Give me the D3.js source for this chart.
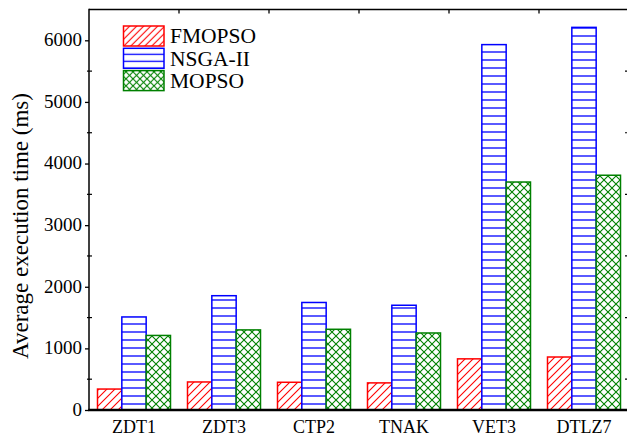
<!DOCTYPE html>
<html>
<head>
<meta charset="utf-8">
<script src="https://cdn.jsdelivr.net/npm/d3@7"></script>
<style>
  html, body { margin: 0; padding: 0; background: #fff; }
  svg { display: block; }
  text { font-family: "Liberation Serif", "Times New Roman", serif; fill: #000; }
</style>
</head>
<body>
<svg id="chart" width="627" height="438"></svg>
<script>
// Benchmark problems on the x axis
const problems = ["ZDT1", "ZDT3", "CTP2", "TNAK", "VET3", "DTLZ7"];
// Algorithms compared
const algorithms = ["FMOPSO", "NSGA-II", "MOPSO"];
// Average execution time (ms) per algorithm, one value per problem
const fmopso = [340, 455, 450, 440, 830, 860];
const nsga2  = [1510, 1855, 1745, 1700, 5930, 6210];
const mopso  = [1210, 1300, 1310, 1250, 3700, 3810];
// Y axis ticks
const yMajorTicks = [0, 1000, 2000, 3000, 4000, 5000, 6000];
const yMinorTicks = [500, 1500, 2500, 3500, 4500, 5500];
const yLabel = "Average execution time (ms)";

const seriesValues = [fmopso, nsga2, mopso];
const colors = ["#ff0000", "#0000ff", "#008000"];
const patternIds = ["hatch-red", "hatch-blue", "hatch-green"];

const svg = d3.select("#chart");
const plotLeft = 89, plotRight = 629, plotTop = 9.5, plotBottom = 410;

const x = d3.scaleBand().domain(problems).range([plotLeft, plotRight]).paddingInner(0).paddingOuter(0);
const xs = d3.scaleBand().domain(algorithms).range([-36.5, 36.5]);
const y = d3.scaleLinear().domain([0, 6500]).range([plotBottom, plotTop]);

// Fill patterns: diagonal, horizontal and cross hatch
const defs = svg.append("defs");
function makePatterns(suffix, size, offY) {
  const red = defs.append("pattern").attr("id", "hatch-red" + suffix)
    .attr("patternUnits", "userSpaceOnUse").attr("width", size).attr("height", size)
    .attr("y", offY);
  red.append("rect").attr("width", size).attr("height", size).attr("fill", "#ffffff");
  red.append("path").attr("d", `M0,${size} L${size},0 M${-size/2},${size/2} L${size/2},${-size/2} M${size/2},${size*1.5} L${size*1.5},${size/2}`)
    .attr("fill", "none").attr("stroke", colors[0]).attr("stroke-width", 1.1);

  const blue = defs.append("pattern").attr("id", "hatch-blue" + suffix)
    .attr("patternUnits", "userSpaceOnUse").attr("width", size).attr("height", size)
    .attr("y", offY);
  blue.append("rect").attr("width", size).attr("height", size).attr("fill", "#ffffff");
  blue.append("line").attr("x1", 0).attr("x2", size).attr("y1", size / 2).attr("y2", size / 2)
    .attr("stroke", colors[1]).attr("stroke-width", 1.3);

  const green = defs.append("pattern").attr("id", "hatch-green" + suffix)
    .attr("patternUnits", "userSpaceOnUse").attr("width", size).attr("height", size)
    .attr("y", offY);
  green.append("rect").attr("width", size).attr("height", size).attr("fill", "#ffffff");
  green.append("path").attr("d", `M0,0 L${size},${size} M0,${size} L${size},0`)
    .attr("fill", "none").attr("stroke", colors[2]).attr("stroke-width", 1.1);
}
makePatterns("", 8, 0);
makePatterns("-legend", 7, 47.3 - 3.5);

// Bars
problems.forEach((p, i) => {
  algorithms.forEach((a, j) => {
    const v = seriesValues[j][i];
    const cx = x(p) + x.bandwidth() / 2;
    svg.append("rect")
      .attr("x", cx + xs(a))
      .attr("y", y(v))
      .attr("width", xs.bandwidth())
      .attr("height", y(0) - y(v))
      .attr("fill", `url(#${patternIds[j]})`)
      .attr("stroke", colors[j])
      .attr("stroke-width", 1.5);
  });
});

// Frame
svg.append("line").attr("x1", plotLeft).attr("x2", plotRight).attr("y1", plotTop).attr("y2", plotTop)
  .attr("stroke", "#000").attr("stroke-width", 1.5);
svg.append("line").attr("x1", plotRight).attr("x2", plotRight).attr("y1", plotTop).attr("y2", plotBottom)
  .attr("stroke", "#000").attr("stroke-width", 1.5);

// Left axis with major labels
const yAxis = d3.axisLeft(y).tickValues(yMajorTicks).tickSize(4).tickPadding(3).tickFormat(d3.format("d"));
const gy = svg.append("g").attr("transform", `translate(${plotLeft},0)`).call(yAxis);
gy.select(".domain").remove();
gy.selectAll(".tick line").attr("stroke-width", 1.3);
gy.selectAll(".tick text").attr("font-size", 19).attr("font-family", "Liberation Serif").attr("dy", "0.28em");
svg.append("line").attr("x1", plotLeft).attr("x2", plotLeft).attr("y1", plotTop - 0.75).attr("y2", plotBottom)
  .attr("stroke", "#000").attr("stroke-width", 1.5);
// Minor ticks on the left
svg.append("g").selectAll("line").data(yMinorTicks).join("line")
  .attr("x1", plotLeft - 2).attr("x2", plotLeft + 3)
  .attr("y1", d => y(d)).attr("y2", d => y(d))
  .attr("stroke", "#000").attr("stroke-width", 1.2);
// Minor ticks on the right side, pointing inward
svg.append("g").selectAll("line").data(yMinorTicks).join("line")
  .attr("x1", plotRight - 4).attr("x2", plotRight)
  .attr("y1", d => y(d)).attr("y2", d => y(d))
  .attr("stroke", "#000").attr("stroke-width", 1.2);
// Top ticks between groups
svg.append("g").selectAll("line").data(problems.slice(1)).join("line")
  .attr("x1", d => x(d)).attr("x2", d => x(d))
  .attr("y1", plotTop).attr("y2", plotTop + 4)
  .attr("stroke", "#000").attr("stroke-width", 1.3);

// Bottom axis with category labels
const xAxis = d3.axisBottom(x).tickSize(0).tickPadding(10);
const gx = svg.append("g").attr("transform", `translate(0,${plotBottom})`).call(xAxis);
gx.select(".domain").remove();
gx.selectAll(".tick text").attr("font-size", 18).attr("font-family", "Liberation Serif")
  .attr("dy", null).attr("y", 22.7);
svg.append("line").attr("x1", plotLeft - 0.75).attr("x2", plotRight).attr("y1", plotBottom).attr("y2", plotBottom)
  .attr("stroke", "#000").attr("stroke-width", 2.5);

// Y axis title
svg.append("text")
  .attr("transform", `translate(28.3,226) rotate(-90)`)
  .attr("text-anchor", "middle")
  .attr("font-size", 23)
  .text(yLabel);

// Legend
const legend = svg.append("g");
algorithms.forEach((a, j) => {
  const ly = 26 + j * 22.3;
  legend.append("rect")
    .attr("x", 123.5).attr("y", ly)
    .attr("width", 40.5).attr("height", 20)
    .attr("fill", `url(#${patternIds[j]}-legend)`)
    .attr("stroke", colors[j]).attr("stroke-width", 1.5);
  legend.append("text")
    .attr("x", 170).attr("y", ly + 17.3)
    .attr("font-size", 21.5)
    .text(a);
});
</script>
</body>
</html>
